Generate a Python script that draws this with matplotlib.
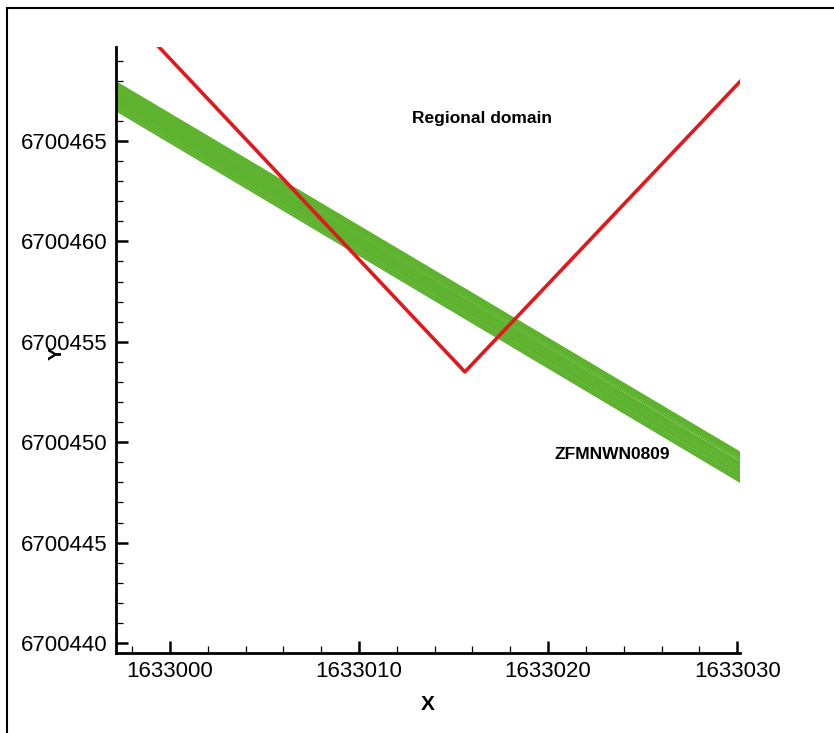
import matplotlib
matplotlib.use("Agg")
import matplotlib.pyplot as plt
from matplotlib.lines import Line2D
from matplotlib.ticker import MultipleLocator, FormatStrFormatter

plt.rcParams['font.family'] = ['Liberation Sans', 'DejaVu Sans']

# regional domain boundary (V shape)
domain_x = [1632998.5, 1633015.6, 1633031.0]
domain_y = [6700470.6, 6700453.5, 6700468.8]

# deformation zone ZFMNWN0809: traces as start/end points
zone_x0 = 1632996.0
zone_x1 = 1633031.0
zone_y0 = [6700467.18, 6700467.30, 6700467.36, 6700467.47, 6700467.55, 6700467.66,
           6700467.74, 6700467.82, 6700467.90, 6700467.99, 6700468.08, 6700468.17,
           6700468.27, 6700468.36, 6700468.46, 6700468.56]
zone_y1 = [6700447.56, 6700447.66, 6700447.76, 6700447.88, 6700447.97, 6700448.05,
           6700448.17, 6700448.25, 6700448.36, 6700448.44, 6700448.52, 6700448.66,
           6700448.78, 6700448.84, 6700448.92, 6700449.00]

fig = plt.figure(figsize=(8.34, 7.33), dpi=100)
ax = fig.add_axes([0.1391, 0.1091, 0.7482, 0.8268])

green = '#5db22e'
red = '#de1a1e'

for ya, yb in zip(zone_y0, zone_y1):
    ax.plot([zone_x0, zone_x1], [ya, yb], color=green, lw=1.6, solid_capstyle='butt')

ax.plot(domain_x, domain_y, color=red, lw=2.6)

ax.text(1633016.5, 6700466.1, 'Regional domain', fontsize=12.5, fontweight='bold',
        ha='center', va='center')
ax.text(1633023.4, 6700449.4, 'ZFMNWN0809', fontsize=12.5, fontweight='bold',
        ha='center', va='center')

ax.set_xlim(1632997.15, 1633030.15)
ax.set_ylim(6700439.5, 6700469.68)

ax.xaxis.set_major_locator(MultipleLocator(10))
ax.xaxis.set_minor_locator(MultipleLocator(2))
ax.yaxis.set_major_locator(MultipleLocator(5))
ax.yaxis.set_minor_locator(MultipleLocator(1))
ax.xaxis.set_major_formatter(FormatStrFormatter('%d'))
ax.yaxis.set_major_formatter(FormatStrFormatter('%d'))

ax.tick_params(which='major', direction='in', length=8.5, width=1.8, labelsize=16, pad=6)
ax.tick_params(which='minor', direction='in', length=5, width=0.9)

for s in ['top', 'right']:
    ax.spines[s].set_visible(False)
for s in ['left', 'bottom']:
    ax.spines[s].set_linewidth(2)

ax.set_xlabel('X', fontsize=15, fontweight='bold')
ax.xaxis.set_label_coords(0.5, -0.07)
ax.set_ylabel('Y', fontsize=14, fontweight='bold')
ax.yaxis.set_label_coords(-0.08, 0.495)

# outer frame, only left and top edges
fig.add_artist(Line2D([0.0084, 0.0084], [0.0, 0.989], transform=fig.transFigure,
                      color='black', lw=1.5))
fig.add_artist(Line2D([0.0084, 1.0], [0.989, 0.989], transform=fig.transFigure,
                      color='black', lw=1.5))

fig.savefig('out.png', dpi=100)
